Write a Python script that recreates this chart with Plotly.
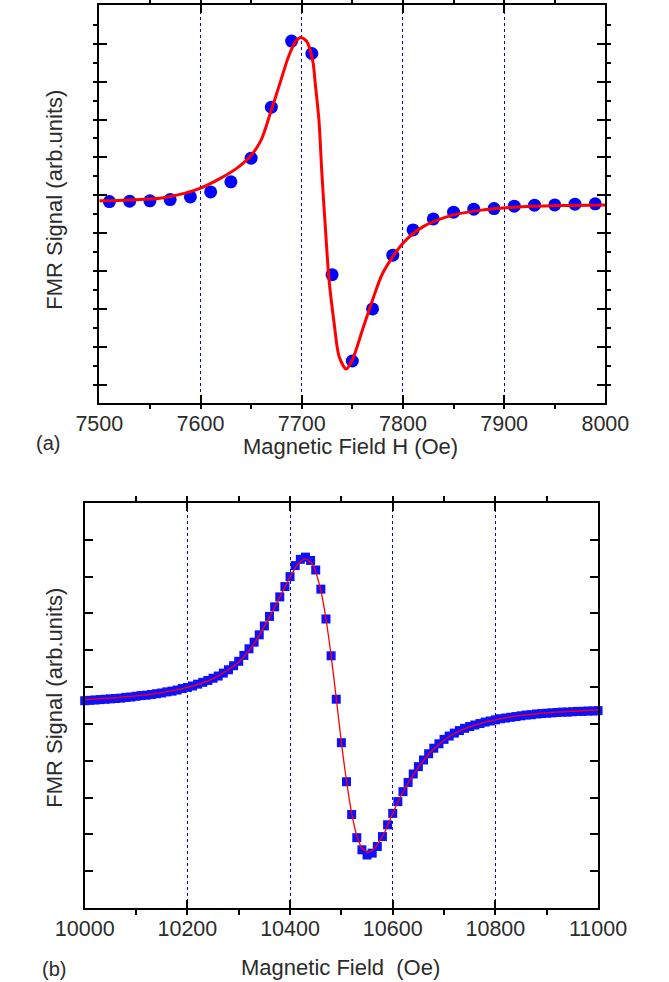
import plotly.graph_objects as go

# ---- panel (a) data ----
field_a = [7510, 7530, 7550, 7570, 7590, 7610, 7630, 7650, 7670, 7690, 7710, 7730, 7750,
           7770, 7790, 7810, 7830, 7850, 7870, 7890, 7910, 7930, 7950, 7970, 7990]
signal_a = [4.836, 4.847, 4.855, 4.889, 4.960, 5.092, 5.356, 5.981, 7.327, 9.069, 8.741, 2.910,
            0.633, 2.005, 3.422, 4.090, 4.380, 4.557, 4.636, 4.652, 4.715, 4.741, 4.749, 4.768, 4.776]

fit_field_a = [7500, 7530, 7560, 7585, 7600, 7620, 7636, 7649, 7660, 7669, 7678, 7687, 7694, 7699,
               7705, 7711, 7713.5, 7717, 7720, 7723, 7727, 7732, 7737, 7744, 7750, 7760, 7770, 7780,
               7800, 7820, 7850, 7880, 7910, 7955, 8000]
fit_signal_a = [4.855, 4.881, 4.926, 5.058, 5.190, 5.454, 5.718, 6.024, 6.464, 7.169, 7.915, 8.662,
                9.058, 9.164, 9.058, 8.530, 7.916, 6.992, 5.541, 4.301, 2.770, 1.636, 0.747, 0.422,
                0.660, 1.451, 2.243, 2.947, 3.739, 4.177, 4.486, 4.618, 4.689, 4.731, 4.749]

# ---- panel (b) data ----
field_b = list(range(10000, 11001, 10))
signal_b = [5.63, 5.64, 5.65, 5.66, 5.67, 5.68, 5.69, 5.70, 5.72, 5.73,
            5.75, 5.77, 5.78, 5.80, 5.82, 5.84, 5.87, 5.89, 5.92, 5.96,
            5.99, 6.03, 6.08, 6.13, 6.18, 6.24, 6.30, 6.38, 6.47, 6.58,
            6.70, 6.86, 7.04, 7.22, 7.42, 7.66, 7.92, 8.18, 8.45, 8.73,
            9.00, 9.30, 9.47, 9.53, 9.44, 9.18, 8.66, 7.85, 6.85, 5.67,
            4.49, 3.43, 2.54, 1.91, 1.58, 1.44, 1.49, 1.67, 1.94, 2.26,
            2.57, 2.89, 3.16, 3.41, 3.64, 3.84, 4.02, 4.19, 4.34, 4.46,
            4.58, 4.67, 4.75, 4.82, 4.88, 4.93, 4.97, 5.01, 5.05, 5.08,
            5.11, 5.14, 5.16, 5.18, 5.20, 5.22, 5.24, 5.25, 5.27, 5.28,
            5.29, 5.30, 5.31, 5.32, 5.32, 5.33, 5.34, 5.34, 5.35, 5.35,
            5.36]

fit_field_b = [10000, 10050, 10100, 10150, 10200, 10250, 10300, 10330, 10360, 10380, 10400, 10415,
               10430, 10445, 10460, 10470, 10480, 10490, 10500, 10510, 10520, 10530, 10540, 10550,
               10560, 10570, 10585, 10600, 10620, 10650, 10680, 10720, 10770, 10830, 10900, 10960, 11000]
fit_signal_b = [5.66, 5.70, 5.76, 5.85, 5.99, 6.23, 6.68, 7.18, 7.90, 8.45, 8.98, 9.33,
                9.48, 9.30, 8.62, 7.85, 6.85, 5.70, 4.50, 3.45, 2.58, 1.97, 1.63, 1.52,
                1.56, 1.72, 2.08, 2.57, 3.15, 3.82, 4.32, 4.74, 5.01, 5.19, 5.30, 5.35, 5.38]

W, H = 669, 982
FONT = "Liberation Sans, Arial, sans-serif"
TXT = "#2b2b2b"

fig = go.Figure()
fig.add_trace(go.Scatter(x=field_a, y=signal_a, mode="markers", xaxis="x", yaxis="y",
                         marker=dict(symbol="circle", size=13, color="#0000ff"), showlegend=False))
fig.add_trace(go.Scatter(x=fit_field_a, y=fit_signal_a, mode="lines", xaxis="x", yaxis="y",
                         line=dict(color="#ff0000", width=3, shape="spline", smoothing=0.8),
                         showlegend=False))
fig.add_trace(go.Scatter(x=field_b, y=signal_b, mode="markers", xaxis="x2", yaxis="y2",
                         marker=dict(symbol="square", size=9, color="#1010ff"),
                         cliponaxis=False, showlegend=False))
fig.add_trace(go.Scatter(x=fit_field_b, y=fit_signal_b, mode="lines", xaxis="x2", yaxis="y2",
                         line=dict(color="#ff0000", width=1.3, shape="spline", smoothing=0.8),
                         showlegend=False))

def px_x(p):
    return p / W

def px_y(p):
    return 1 - p / H

common_x = dict(showline=True, linewidth=2, linecolor="black", mirror="allticks",
                ticks="inside", ticklen=8, tickwidth=1.5, tickcolor="black",
                showgrid=True, gridcolor="#0000ff", griddash="dot", gridwidth=1,
                zeroline=False, tickfont=dict(family=FONT, size=21.5, color=TXT),
                tickformat="d", ticklabelstandoff=0)
common_y = dict(showline=True, linewidth=2, linecolor="black", mirror="allticks",
                ticks="inside", ticklen=8, tickwidth=1.5, tickcolor="black",
                showgrid=False, zeroline=False, showticklabels=False)

fig.update_layout(
    width=W, height=H, margin=dict(l=0, r=0, t=0, b=0),
    paper_bgcolor="white", plot_bgcolor="white",
    xaxis=dict(domain=[px_x(76), px_x(631)], anchor="y", range=[7500, 8000],
               tickmode="linear", tick0=7500, dtick=100,
               minor=dict(dtick=50, ticklen=4, tickwidth=1.5, tickcolor="black", showgrid=False),
               **common_x),
    yaxis=dict(domain=[px_y(403), px_y(5)], anchor="x", range=[-0.475, 10.02],
               tickmode="linear", tick0=0, dtick=1,
               minor=dict(dtick=0.5, ticklen=4, tickwidth=1.5, tickcolor="black"),
               **common_y),
    xaxis2=dict(domain=[px_x(60), px_x(623)], anchor="y2", range=[10000, 11000],
                tickmode="linear", tick0=10000, dtick=200,
                minor=dict(dtick=100, ticklen=5, tickwidth=1.5, tickcolor="black", showgrid=False),
                **common_x),
    yaxis2=dict(domain=[px_y(908), px_y(503)], anchor="x2", range=[0, 11],
                tickmode="linear", tick0=0, dtick=1, **common_y),
)

def ann(text, x, y, size=22, angle=0):
    fig.add_annotation(text=text, x=px_x(x), y=px_y(y), xref="paper", yref="paper",
                       showarrow=False, textangle=angle, xanchor="center", yanchor="middle",
                       font=dict(family=FONT, size=size, color=TXT))

ann("Magnetic Field H (Oe)", 352, 446)
ann("(a)", 20, 443, size=20)
ann("FMR Signal (arb.units)", 26, 200, angle=-90)
ann("Magnetic Field\u00a0 (Oe)", 340, 967)
ann("(b)", 26, 969, size=20)
ann("FMR Signal (arb.units)", 26, 698, angle=-90)

fig.write_html("out.html")
